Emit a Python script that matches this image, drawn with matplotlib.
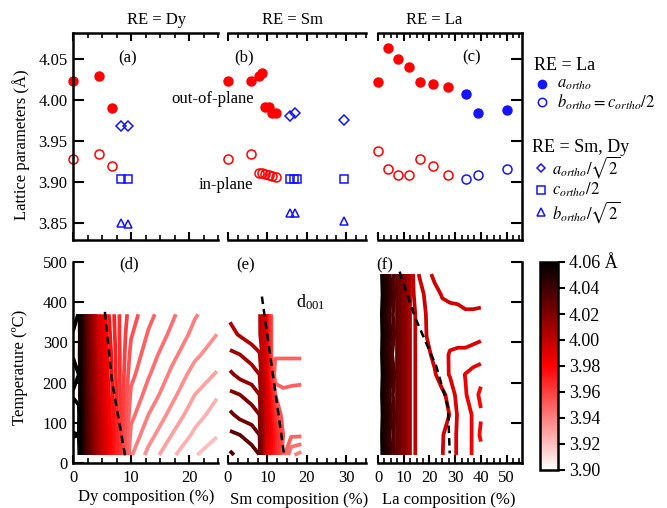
import numpy as np
import matplotlib
matplotlib.use("Agg")
import matplotlib.pyplot as plt
from matplotlib.colors import LinearSegmentedColormap, Normalize
from matplotlib.cm import ScalarMappable
from matplotlib.ticker import MultipleLocator

plt.rcParams['font.family'] = ['Liberation Serif', 'DejaVu Serif']
plt.rcParams['mathtext.fontset'] = 'stix'
plt.rcParams['font.size'] = 12

# ---------------- lattice parameters (top row) ----------------
# RE = Dy
dy_x = [0, 4.5, 6.7]
dy_out = [4.023, 4.030, 3.990]
dy_in = [3.928, 3.934, 3.919]
dy_orth_x = [8.2, 9.5]
dy_a_sqrt2 = [3.968, 3.968]
dy_c_half = [3.903, 3.903]
dy_b_sqrt2 = [3.850, 3.848]

# RE = Sm
sm_x = [0, 5.85, 7.8, 8.7, 9.5, 10.4, 11.2, 12.3]
sm_out = [4.023, 4.023, 4.0295, 4.0336, 3.9918, 3.991, 3.9844, 3.9844]
sm_in = [3.928, 3.934, 3.911, 3.911, 3.910, 3.908, 3.907, 3.906]
sm_a_x = [15.8, 17.0, 29.5]
sm_a_sqrt2 = [3.980, 3.984, 3.976]
sm_c_x = [15.8, 16.8, 17.6, 29.5]
sm_c_half = [3.903, 3.903, 3.903, 3.903]
sm_b_x = [15.8, 17.0, 29.5]
sm_b_sqrt2 = [3.862, 3.862, 3.852]

# RE = La
la_x = [0, 3.9, 7.8, 12.1, 16.5, 21.4, 27.2]
la_out = [4.0225, 4.0635, 4.050, 4.040, 4.0225, 4.0197, 4.0156]
la_in = [3.9373, 3.916, 3.909, 3.909, 3.9275, 3.919, 3.909]
la_orth_x = [34.1, 38.7, 50.1]
la_a = [4.0074, 3.9844, 3.9885]
la_bc = [3.903, 3.908, 3.9155]

# ---------------- d001 maps (bottom row) ----------------
temps = [20, 70, 120, 170, 220, 270, 320, 370]

dy_comp = [0, 1, 2, 4, 6, 8, 10, 13, 17, 21, 24.8]
dy_d001 = [
    [4.075, 4.062, 4.040, 4.010, 3.985, 3.9665, 3.9405, 3.9335, 3.926, 3.9205, 3.916],
    [4.058, 4.060, 4.040, 4.008, 3.984, 3.966, 3.9435, 3.937, 3.930, 3.924, 3.9205],
    [4.075, 4.061, 4.039, 4.006, 3.983, 3.966, 3.9465, 3.940, 3.9335, 3.927, 3.923],
    [4.057, 4.059, 4.038, 4.004, 3.9815, 3.966, 3.949, 3.943, 3.9365, 3.930, 3.9255],
    [4.070, 4.060, 4.037, 4.002, 3.980, 3.9655, 3.9515, 3.9455, 3.939, 3.933, 3.9295],
    [4.058, 4.058, 4.037, 4.000, 3.979, 3.9655, 3.9535, 3.9475, 3.9415, 3.936, 3.9325],
    [4.057, 4.059, 4.036, 3.9975, 3.9775, 3.965, 3.9555, 3.9495, 3.944, 3.9385, 3.935],
    [4.075, 4.058, 4.035, 3.995, 3.976, 3.965, 3.9575, 3.9515, 3.946, 3.9405, 3.937],
]

sm_comp = [0.5, 3, 6, 8, 9, 10, 11, 12, 14, 16, 18.6]
sm_d001 = [
    [4.036, 4.0335, 4.033, 4.030, 3.996, 3.985, 3.977, 3.968, 3.952, 3.941, 3.938],
    [4.031, 4.0300, 4.027, 4.025, 3.998, 3.990, 3.980, 3.970, 3.955, 3.951, 3.951],
    [4.026, 4.0235, 4.023, 4.020, 3.999, 3.990, 3.975, 3.962, 3.952, 3.952, 3.953],
    [4.021, 4.0200, 4.017, 4.015, 3.999, 3.985, 3.970, 3.955, 3.952, 3.953, 3.954],
    [4.016, 4.0135, 4.013, 4.010, 3.998, 3.980, 3.960, 3.946, 3.946, 3.946, 3.946],
    [4.011, 4.0100, 4.007, 4.0055, 3.997, 3.975, 3.955, 3.951, 3.951, 3.951, 3.951],
    [4.0065, 4.0045, 4.003, 4.0008, 3.996, 3.972, 3.955, 3.953, 3.953, 3.953, 3.953],
    [4.004, 4.003, 4.002, 4.0008, 3.995, 3.970, 3.955, 3.953, 3.953, 3.953, 3.953],
]

la_temps = [20, 70, 120, 170, 220, 270, 320, 370, 420, 470]
la_comp = [1, 3, 5, 7, 10, 13, 16, 19, 22, 25, 28, 31, 34, 37, 40]
la_d001 = [
    [4.058, 4.049, 4.040, 4.032, 4.018, 4.0015, 3.9985, 3.999, 3.998, 3.9952, 3.992, 3.9895, 3.987, 3.9845, 3.982],
    [4.058, 4.047, 4.038, 4.032, 4.018, 4.0015, 3.9985, 3.999, 3.998, 3.9955, 3.992, 3.9895, 3.987, 3.9845, 3.979],
    [4.058, 4.050, 4.040, 4.032, 4.018, 4.0015, 3.9985, 3.999, 3.998, 3.997, 3.9948, 3.9895, 3.987, 3.9845, 3.9805],
    [4.058, 4.047, 4.037, 4.032, 4.018, 4.0015, 3.9985, 3.999, 3.998, 3.996, 3.9935, 3.988, 3.9855, 3.982, 3.979],
    [4.058, 4.050, 4.041, 4.032, 4.018, 4.0015, 3.9985, 3.998, 3.9955, 3.9925, 3.9895, 3.987, 3.9848, 3.983, 3.9815],
    [4.058, 4.047, 4.036, 4.032, 4.018, 4.0015, 3.9985, 3.996, 3.994, 3.992, 3.9895, 3.989, 3.989, 3.9885, 3.988],
    [4.058, 4.049, 4.040, 4.032, 4.018, 4.0015, 3.9985, 3.9948, 3.992, 3.992, 3.992, 3.992, 3.992, 3.9915, 3.991],
    [4.058, 4.046, 4.037, 4.032, 4.018, 4.0015, 3.9985, 3.9945, 3.993, 3.993, 3.993, 3.993, 3.9945, 3.9945, 3.994],
    [4.058, 4.050, 4.041, 4.032, 4.018, 4.0015, 3.9965, 3.994, 3.993, 3.9955, 3.9965, 3.997, 3.9965, 3.9965, 3.997],
    [4.058, 4.047, 4.038, 4.032, 4.018, 4.0015, 3.9948, 3.993, 3.9965, 3.998, 3.998, 3.998, 3.998, 3.998, 3.998],
]

# boundaries between structural regions
dy_bound_x = [5.5, 6.7, 9.0]
dy_bound_t = [376, 206, 16]
sm_bound_x = [8.6, 14.3]
sm_bound_t = [414, 16]
la_bound_x = [8.4, 14.3, 22.7, 27.2, 27.9]
la_bound_t = [476, 364, 240, 140, 24]

cbar_ticks = [3.90, 3.92, 3.94, 3.96, 3.98, 4.00, 4.02, 4.04, 4.06]

# ---------------- figure ----------------
W, H = 667, 508
fig = plt.figure(figsize=(W / 100, H / 100), dpi=100)


def px_axes(x0, y0, x1, y1, **kw):
    return fig.add_axes([x0 / W, 1 - y1 / H, (x1 - x0) / W, (y1 - y0) / H], **kw)


RED = '#ff0000'
BLUE = '#1414ff'
SPINE_LW = 1.8

cmap = LinearSegmentedColormap.from_list('wrk', ['#ffffff', '#ff0000', '#000000'])
norm = Normalize(vmin=3.90, vmax=4.06)
levels = np.linspace(3.90, 4.06, 33)


def style(ax, spines, xmax):
    for side in ['left', 'right', 'top', 'bottom']:
        ax.spines[side].set_visible(side in spines)
        ax.spines[side].set_linewidth(SPINE_LW)
    ax.set_xlim(0, xmax)
    ax.xaxis.set_major_locator(MultipleLocator(10))
    ax.xaxis.set_minor_locator(MultipleLocator(2.5))
    ax.tick_params(which='major', direction='in', length=6, width=1.5)
    ax.tick_params(which='minor', direction='in', length=3.5, width=1.2)
    ax.patch.set_alpha(0)


top = (33, 240)
bot = (262, 463)
xr = {'Dy': (73, 218), 'Sm': (228, 366), 'La': (378, 522)}

axA = px_axes(xr['Dy'][0], top[0], xr['Dy'][1], top[1])
axB = px_axes(xr['Sm'][0], top[0], xr['Sm'][1], top[1])
axC = px_axes(xr['La'][0], top[0], xr['La'][1], top[1])
style(axA, ['left', 'top', 'bottom'], 25)
style(axB, ['top', 'bottom'], 35)
style(axC, ['top', 'bottom', 'right'], 56)
for ax in (axA, axB, axC):
    ax.set_ylim(3.829, 4.082)
    ax.tick_params(axis='x', which='both', top=True, bottom=True, labelbottom=False)
    ax.yaxis.set_major_locator(MultipleLocator(0.05))
axA.tick_params(axis='y', left=True, right=False, labelleft=True, pad=4, length=8)
axA.yaxis.set_major_formatter(plt.FormatStrFormatter('%.2f'))
axB.tick_params(axis='y', left=False, right=False, labelleft=False)
axC.tick_params(axis='y', left=False, right=True, labelleft=False, labelright=False, length=8)

ms = 6.5
mew = 1.1
# Dy
axA.plot(dy_x, dy_out, 'o', color=RED, ms=ms, clip_on=False)
axA.plot(dy_x, dy_in, 'o', mfc='none', mec=RED, ms=ms, mew=mew, clip_on=False)
axA.plot(dy_orth_x, dy_a_sqrt2, 'D', mfc='none', mec=BLUE, ms=5, mew=mew)
axA.plot(dy_orth_x, dy_c_half, 's', mfc='none', mec=BLUE, ms=6, mew=mew)
axA.plot(dy_orth_x, dy_b_sqrt2, '^', mfc='none', mec=BLUE, ms=6, mew=mew)
# Sm
axB.plot(sm_x, sm_out, 'o', color=RED, ms=ms, clip_on=False)
axB.plot(sm_x, sm_in, 'o', mfc='none', mec=RED, ms=ms, mew=mew, clip_on=False)
axB.plot(sm_a_x, sm_a_sqrt2, 'D', mfc='none', mec=BLUE, ms=5, mew=mew)
axB.plot(sm_c_x, sm_c_half, 's', mfc='none', mec=BLUE, ms=6, mew=mew)
axB.plot(sm_b_x, sm_b_sqrt2, '^', mfc='none', mec=BLUE, ms=6, mew=mew)
# La
axC.plot(la_x, la_out, 'o', color=RED, ms=ms, clip_on=False)
axC.plot(la_x, la_in, 'o', mfc='none', mec=RED, ms=ms, mew=mew, clip_on=False)
axC.plot(la_orth_x, la_a, 'o', color=BLUE, ms=ms)
axC.plot(la_orth_x, la_bc, 'o', mfc='none', mec=BLUE, ms=ms, mew=mew)

# ---------------- bottom row ----------------
axD = px_axes(xr['Dy'][0], bot[0], xr['Dy'][1], bot[1])
axE = px_axes(xr['Sm'][0], bot[0], xr['Sm'][1], bot[1])
axF = px_axes(xr['La'][0], bot[0], xr['La'][1], bot[1])
style(axD, ['left', 'bottom'], 25)
style(axE, ['bottom'], 35)
style(axF, ['bottom', 'right'], 56)
for ax in (axD, axE, axF):
    ax.set_ylim(0, 500)
    ax.yaxis.set_major_locator(MultipleLocator(100))
    ax.tick_params(axis='x', which='both', top=False, bottom=True, labelbottom=True, pad=5)
axD.tick_params(axis='y', left=True, right=False, labelleft=True, pad=4, length=8)
axE.tick_params(axis='y', left=False, right=False, labelleft=False)
axF.tick_params(axis='y', left=False, right=True, labelleft=False, labelright=False, length=8)
axD.set_xticks([0, 10, 20])
axE.set_xticks([0, 10, 20, 30])
axF.set_xticks([0, 10, 20, 30, 40, 50])

CLW = 2.7
for ax, comp, tt, z in ((axD, dy_comp, temps, dy_d001),
                        (axE, sm_comp, temps, sm_d001),
                        (axF, la_comp, la_temps, la_d001)):
    X, T = np.meshgrid(comp, tt)
    ax.contour(X, T, np.array(z), levels=levels, cmap=cmap, norm=norm,
               linewidths=CLW)

dash = dict(color='black', lw=1.8, ls=(0, (3, 2)))
axD.plot(dy_bound_x, dy_bound_t, **dash)
axE.plot(sm_bound_x, sm_bound_t, **dash)
axF.plot(la_bound_x, la_bound_t, **dash)

# colour bar
cax = px_axes(540, 262, 558, 470)
cb = fig.colorbar(ScalarMappable(norm=norm, cmap=cmap), cax=cax, ticks=cbar_ticks)
cb.outline.set_linewidth(SPINE_LW)
cb.ax.tick_params(direction='out', length=5, width=1.5, labelsize=13, pad=3)
cb.ax.set_yticklabels([f'{v:.2f}' if v < 4.06 else f'{v:.2f} Å' for v in cbar_ticks])

# ---------------- text and key ----------------
ov = fig.add_axes([0, 0, 1, 1], zorder=10)
ov.set_xlim(0, W)
ov.set_ylim(H, 0)
ov.axis('off')
ov.patch.set_alpha(0)

fs = 12
ov.text(157, 20, 'RE = Dy', ha='center', va='center', fontsize=fs)
ov.text(293, 20, 'RE = Sm', ha='center', va='center', fontsize=fs)
ov.text(434, 20, 'RE = La', ha='center', va='center', fontsize=fs)
for s, (x, y) in {'(a)': (128, 58), '(b)': (244, 57), '(c)': (472, 57),
                  '(d)': (129, 264), '(e)': (246, 265), '(f)': (385, 265)}.items():
    ov.text(x, y, s, ha='center', va='center', fontsize=fs)
ov.text(213, 99, 'out-of-plane', ha='center', va='center', fontsize=fs)
ov.text(226, 185, 'in-plane', ha='center', va='center', fontsize=fs)
ov.text(311, 302, r'd$_{\mathregular{001}}$', ha='center', va='center', fontsize=fs + 1)

ov.text(21, 145, 'Lattice parameters (Å)', rotation=90, ha='center', va='center', fontsize=fs)
ov.text(20, 367, 'Temperature (ºC)', rotation=90, ha='center', va='center', fontsize=fs)
ov.text(146, 497, 'Dy composition (%)', ha='center', va='center', fontsize=fs)
ov.text(299, 500, 'Sm composition (%)', ha='center', va='center', fontsize=fs)
ov.text(449, 500, 'La composition (%)', ha='center', va='center', fontsize=fs)

# key
kfs = 12
ov.text(534, 66, 'RE = La', ha='left', va='center', fontsize=kfs + 1)
ov.plot([542], [84], 'o', color=BLUE, ms=6)
ov.text(557, 84, r'$a_{ortho}$', ha='left', va='center', fontsize=kfs)
ov.plot([542], [102], 'o', mfc='none', mec=BLUE, ms=6, mew=1.1)
ov.text(557, 102, r'$b_{ortho} = c_{ortho}/2$', ha='left', va='center', fontsize=kfs)
ov.text(532, 147, 'RE = Sm, Dy', ha='left', va='center', fontsize=kfs + 1)
ov.plot([541], [168], 'D', mfc='none', mec=BLUE, ms=4.5, mew=1.1)
ov.text(552, 167, r'$a_{ortho}/\sqrt{2}$', ha='left', va='center', fontsize=kfs)
ov.plot([541], [190], 's', mfc='none', mec=BLUE, ms=5.5, mew=1.1)
ov.text(552, 190, r'$c_{ortho}/2$', ha='left', va='center', fontsize=kfs)
ov.plot([541], [212], '^', mfc='none', mec=BLUE, ms=5.5, mew=1.1)
ov.text(552, 212, r'$b_{ortho}/\sqrt{2}$', ha='left', va='center', fontsize=kfs)

fig.savefig('out.png', dpi=100)
